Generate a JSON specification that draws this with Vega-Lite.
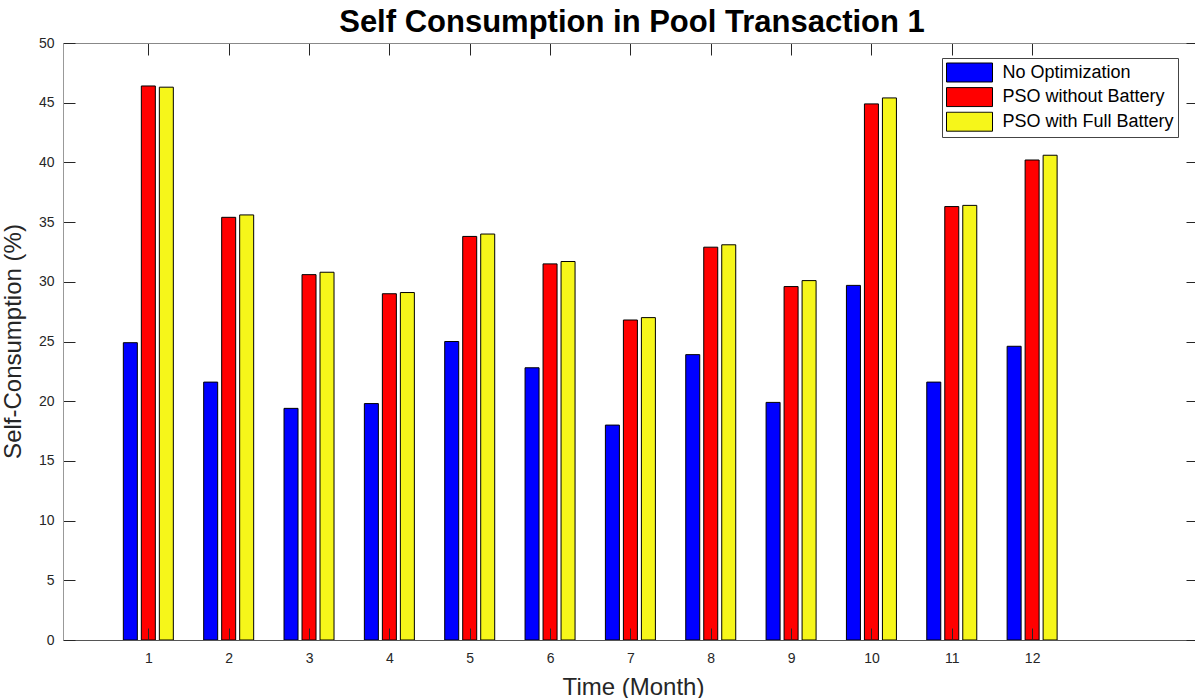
{
  "$schema": "https://vega.github.io/schema/vega-lite/v6.json",
  "autosize": {"type": "none"},
  "padding": {"left": 63, "top": 43, "right": 0, "bottom": 58},
  "width": 1132,
  "height": 597,
  "background": "white",
  "config": {
    "view": {"stroke": null},
    "font": "Liberation Sans",
    "axis": {"grid": false, "labelFont": "Liberation Sans", "titleFont": "Liberation Sans"}
  },
  "title": {
    "text": "Self Consumption in Pool Transaction 1",
    "font": "Liberation Sans",
    "fontSize": 31,
    "fontWeight": "bold",
    "color": "#000000",
    "anchor": "middle",
    "offset": 10,
    "dx": 3,
    "dy": 13
  },
  "data": {
    "values": [
      {"month": 1, "series": "No Optimization", "value": 24.9},
      {"month": 1, "series": "PSO without Battery", "value": 46.4},
      {"month": 1, "series": "PSO with Full Battery", "value": 46.3},
      {"month": 2, "series": "No Optimization", "value": 21.6},
      {"month": 2, "series": "PSO without Battery", "value": 35.4},
      {"month": 2, "series": "PSO with Full Battery", "value": 35.6},
      {"month": 3, "series": "No Optimization", "value": 19.4},
      {"month": 3, "series": "PSO without Battery", "value": 30.6},
      {"month": 3, "series": "PSO with Full Battery", "value": 30.8},
      {"month": 4, "series": "No Optimization", "value": 19.8},
      {"month": 4, "series": "PSO without Battery", "value": 29.0},
      {"month": 4, "series": "PSO with Full Battery", "value": 29.1},
      {"month": 5, "series": "No Optimization", "value": 25.0},
      {"month": 5, "series": "PSO without Battery", "value": 33.8},
      {"month": 5, "series": "PSO with Full Battery", "value": 34.0},
      {"month": 6, "series": "No Optimization", "value": 22.8},
      {"month": 6, "series": "PSO without Battery", "value": 31.5},
      {"month": 6, "series": "PSO with Full Battery", "value": 31.7},
      {"month": 7, "series": "No Optimization", "value": 18.0},
      {"month": 7, "series": "PSO without Battery", "value": 26.8},
      {"month": 7, "series": "PSO with Full Battery", "value": 27.0},
      {"month": 8, "series": "No Optimization", "value": 23.9},
      {"month": 8, "series": "PSO without Battery", "value": 32.9},
      {"month": 8, "series": "PSO with Full Battery", "value": 33.1},
      {"month": 9, "series": "No Optimization", "value": 19.9},
      {"month": 9, "series": "PSO without Battery", "value": 29.6},
      {"month": 9, "series": "PSO with Full Battery", "value": 30.1},
      {"month": 10, "series": "No Optimization", "value": 29.7},
      {"month": 10, "series": "PSO without Battery", "value": 44.9},
      {"month": 10, "series": "PSO with Full Battery", "value": 45.4},
      {"month": 11, "series": "No Optimization", "value": 21.6},
      {"month": 11, "series": "PSO without Battery", "value": 36.3},
      {"month": 11, "series": "PSO with Full Battery", "value": 36.4},
      {"month": 12, "series": "No Optimization", "value": 24.6},
      {"month": 12, "series": "PSO without Battery", "value": 40.2},
      {"month": 12, "series": "PSO with Full Battery", "value": 40.6}
    ]
  },
  "resolve": {"axis": {"x": "independent", "y": "independent"}},
  "layer": [
    {
      "transform": [{"filter": "datum.series === 'No Optimization'"}],
      "mark": {"type": "bar", "orient": "vertical", "width": 14, "xOffset": -18, "stroke": "#000000", "strokeWidth": 1},
      "encoding": {
        "x": {
          "field": "month", "type": "quantitative",
          "scale": {"domain": [0, 13.965], "nice": false, "zero": false},
          "axis": {
            "orient": "bottom", "values": [1,2,3,4,5,6,7,8,9,10,11,12], "zindex": 1,
            "tickSize": -12, "tickColor": "#262626", "tickWidth": 1,
            "domainColor": "#555555", "domainWidth": 1,
            "labelFontSize": 14, "labelColor": "#262626", "labelPadding": 23, "labelFlush": false,
            "title": "Time (Month)", "titleFontSize": 24, "titleFontWeight": "normal", "titleColor": "#262626",
            "titleX": 570, "titleY": 54, "titleBaseline": "alphabetic", "titleAlign": "center"
          }
        },
        "y": {
          "field": "value", "type": "quantitative", "stack": null,
          "scale": {"domain": [0, 50], "nice": false},
          "axis": {
            "orient": "left", "values": [0,5,10,15,20,25,30,35,40,45,50], "zindex": 1,
            "tickSize": -12, "tickColor": "#262626", "tickWidth": 1,
            "domainColor": "#999999", "domainWidth": 1,
            "labelFontSize": 14, "labelColor": "#262626", "labelPadding": 21, "labelFlush": false,
            "title": "Self-Consumption (%)", "titleFontSize": 24, "titleFontWeight": "normal", "titleColor": "#262626",
            "titleX": -43, "titleY": 298, "titleAngle": -90, "titleBaseline": "alphabetic", "titleAlign": "center"
          }
        },
        "color": {
          "field": "series", "type": "nominal",
          "scale": {"domain": ["No Optimization", "PSO without Battery", "PSO with Full Battery"], "range": ["#0000ff", "#ff0000", "#f6f61a"]},
          "legend": {
            "orient": "none", "legendX": 879, "legendY": 15, "title": null,
            "padding": 4, "strokeColor": "#444444", "fillColor": "#ffffff",
            "symbolType": "M-1,-0.413H1V0.413H-1Z", "symbolSize": 2116,
            "symbolStrokeColor": "#000000", "symbolStrokeWidth": 1, "symbolOpacity": 1,
            "clipHeight": 21, "rowPadding": 3.6, "labelOffset": 9.5, "labelLimit": 400,
            "labelFont": "Liberation Sans", "labelFontSize": 18, "labelColor": "#000000"
          }
        }
      }
    },
    {
      "transform": [{"filter": "datum.series === 'PSO without Battery'"}],
      "mark": {"type": "bar", "orient": "vertical", "width": 14, "xOffset": 0, "stroke": "#000000", "strokeWidth": 1},
      "encoding": {
        "x": {
          "field": "month", "type": "quantitative",
          "axis": {
            "orient": "top", "values": [1,2,3,4,5,6,7,8,9,10,11,12], "zindex": 1,
            "tickSize": -12, "tickColor": "#262626", "tickWidth": 1,
            "domainColor": "#888888", "domainWidth": 1,
            "labels": false, "title": null
          }
        },
        "y": {
          "field": "value", "type": "quantitative", "stack": null,
          "axis": {
            "orient": "right", "values": [0,5,10,15,20,25,30,35,40,45,50], "zindex": 1,
            "tickSize": -9, "tickColor": "#262626", "tickWidth": 1,
            "domain": false, "labels": false, "title": null
          }
        },
        "color": {
          "field": "series", "type": "nominal",
          "scale": {"domain": ["No Optimization", "PSO without Battery", "PSO with Full Battery"], "range": ["#0000ff", "#ff0000", "#f6f61a"]},
          "legend": {
            "orient": "none", "legendX": 879, "legendY": 15, "title": null,
            "padding": 4, "strokeColor": "#444444", "fillColor": "#ffffff",
            "symbolType": "M-1,-0.413H1V0.413H-1Z", "symbolSize": 2116,
            "symbolStrokeColor": "#000000", "symbolStrokeWidth": 1, "symbolOpacity": 1,
            "clipHeight": 21, "rowPadding": 3.6, "labelOffset": 9.5, "labelLimit": 400,
            "labelFont": "Liberation Sans", "labelFontSize": 18, "labelColor": "#000000"
          }
        }
      }
    },
    {
      "transform": [{"filter": "datum.series === 'PSO with Full Battery'"}],
      "mark": {"type": "bar", "orient": "vertical", "width": 14, "xOffset": 18, "stroke": "#000000", "strokeWidth": 1},
      "encoding": {
        "x": {"field": "month", "type": "quantitative", "axis": null},
        "y": {"field": "value", "type": "quantitative", "stack": null, "axis": null},
        "color": {
          "field": "series", "type": "nominal",
          "scale": {"domain": ["No Optimization", "PSO without Battery", "PSO with Full Battery"], "range": ["#0000ff", "#ff0000", "#f6f61a"]},
          "legend": {
            "orient": "none", "legendX": 879, "legendY": 15, "title": null,
            "padding": 4, "strokeColor": "#444444", "fillColor": "#ffffff",
            "symbolType": "M-1,-0.413H1V0.413H-1Z", "symbolSize": 2116,
            "symbolStrokeColor": "#000000", "symbolStrokeWidth": 1, "symbolOpacity": 1,
            "clipHeight": 21, "rowPadding": 3.6, "labelOffset": 9.5, "labelLimit": 400,
            "labelFont": "Liberation Sans", "labelFontSize": 18, "labelColor": "#000000"
          }
        }
      }
    }
  ]
}
